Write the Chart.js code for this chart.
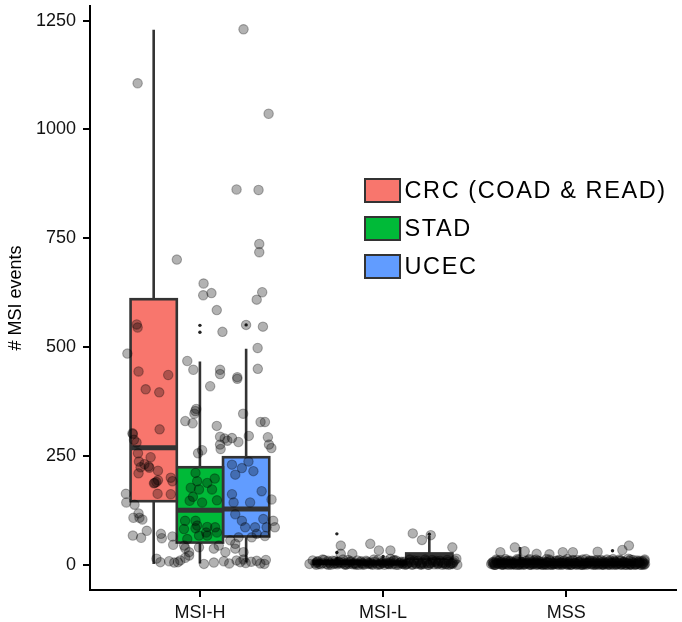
<!DOCTYPE html>
<html><head><meta charset="utf-8">
<script src="https://cdn.jsdelivr.net/npm/chart.js@4/dist/chart.umd.min.js"></script>
<style>
body{margin:0;background:#fff}
#wrap{position:relative;width:682px;height:622px}
#legend{position:absolute;left:364px;top:171.5px;font-family:'Liberation Sans',Arial,sans-serif;font-size:23.5px;letter-spacing:1.6px;line-height:1.15;color:#000}
.item{display:flex;align-items:center;height:38px;white-space:nowrap}
.sw{width:32.5px;height:20.5px;border:2px solid #333;margin-right:4px;flex:none}
</style></head><body>
<div id="wrap"><canvas id="c" width="682" height="622"></canvas><div id="legend"></div></div>
<script>
// ---------- data ----------
const categories = ['MSI-H', 'MSI-L', 'MSS'];
const seriesNames = ['CRC (COAD & READ)', 'STAD', 'UCEC'];
const seriesColors = ['#F8766D', '#00BA38', '#619CFF'];
const yTicks = [0, 250, 500, 750, 1000, 1250];

// box statistics per category: [min, q1, median, q3, max]
const crcStats  = [[2, 146, 269, 610, 1229], [0, 2, 5, 9, 18], [0, 2, 5, 9, 41]];
const stadStats = [[3, 51, 125, 224, 467], [0, 2, 4, 7, 13], [0, 1, 3, 6, 12]];
const ucecStats = [[5, 65, 128, 247, 496], [8, 14, 19, 26, 66], [0, 1, 3, 6, 15]];

// boxplot outliers: [category index, value]
const crcOutliers  = [[1, 71], [1, 28]];
const stadOutliers = [[0, 550], [0, 534], [1, 19]];
const ucecOutliers = [[0, 551], [1, 70], [2, 32]];

// jittered samples: [horizontal jitter (category units), # MSI events]
const msihPoints = [[-0.34,1106],[0.238,1230],[0.375,1036],[0.2,862],[0.32,861],[0.324,737],[0.324,718],[-0.126,701],[0.02,646],[0.018,619],[0.063,624],[0.34,626],[0.31,609],
[0.092,585],[-0.345,552],[-0.34,545],[0.123,535],[0.252,551],[0.344,547],[-0.396,485],[0.315,498],[-0.069,468],[-0.036,448],[0.11,448],[0.11,438],[0.204,431],[0.204,427],[0.316,450],[-0.335,444],[-0.173,436],[-0.296,403],[-0.222,396],[0.056,410],[-0.02,358],[-0.025,353],[-0.03,347],[-0.08,330],[-0.04,325],[0.092,319],[0.236,347],[0.331,328],[0.355,328],[-0.22,311],
[-0.366,300],[-0.346,281],[0.267,296],[0.371,293],[0.135,290],[0.15,285],[0.11,294],[0.11,276],[0.113,266],[0.012,263],[-0.01,256],[0.377,276],[0.39,268],[0.175,291],[0.21,282],
[-0.338,256],[-0.333,237],[-0.269,247],[-0.276,223],[-0.229,216],[-0.247,188],[-0.229,194],[-0.324,224],[-0.335,210],[-0.404,163],[-0.402,143],[-0.357,138],[-0.335,118],[-0.363,108],[-0.33,108],[-0.314,104],[-0.366,67],[-0.321,62],[-0.29,78],[-0.213,71],[-0.208,61],[-0.15,65],[-0.146,46],[-0.086,44],[-0.237,14],[-0.216,6],[-0.168,8],[-0.14,5],[-0.12,6],[-0.107,10],[-0.08,16],[-0.059,21],[-0.08,38],[-0.059,29],
[-0.368,302],[-0.36,287],[-0.303,231],[-0.28,226],[-0.238,190],[-0.251,187],[-0.159,200],[-0.15,192],[-0.231,163],[-0.159,162],
[-0.024,211],[-0.015,192],[-0.05,177],[-0.005,173],[-0.038,156],[-0.056,147],[0.012,143],[0.066,173],[0.093,148],[0.081,198],[0.04,188],[-0.081,101],[-0.024,101],[-0.015,90],[-0.024,84],[0.04,87],[0.034,74],[0.04,67],[0.083,86],[0.093,74],[-0.087,82],
[0.175,230],[0.193,207],[0.229,222],[0.265,237],[0.292,215],[0.337,169],[0.175,162],[0.184,143],[0.274,143],[0.391,150],[0.193,116],[0.229,101],[0.346,105],[0.247,86],[0.301,86],[0.364,86],[0.211,63],[0.4,101],[0.409,86],
[0.022,2],[0.076,5],[0.13,8],[0.16,3],[0.2,10],[0.22,6],[0.238,12],[0.25,4],[0.28,7],[0.31,9],[0.33,3],[0.36,11],[0.352,2],[-0.005,40],[0.076,37],[0.103,44],[0.139,29],[0.193,37],[0.238,29],[-0.005,67],[-0.069,59],[0.283,63],[0.31,71],[0.355,66],[0.166,56],[0.193,48]];

const msilPoints = [[-0.384,10],[-0.402,2],[-0.231,44],[-0.231,25],[-0.07,48],[-0.023,33],[0.04,33],[0.04,14],[-0.168,25],[0.162,72],[0.212,57],[0.26,68],[0.378,40],[0.4,14],[0.405,0],
[-0.37,3],[-0.355,8],[-0.34,1],[-0.362,5],[-0.322,11],[-0.31,2],[-0.298,6],[-0.285,0],[-0.276,9],[-0.262,4],[-0.25,1],[-0.243,7],[-0.231,3],[-0.219,12],[-0.205,0],[-0.196,5],[-0.184,2],[-0.177,8],[-0.165,1],[-0.152,4],[-0.141,10],[-0.133,0],[-0.121,6],[-0.112,3],[-0.1,1],[-0.093,9],[-0.081,2],[-0.069,5],[-0.058,0],[-0.047,7],[-0.036,3],[-0.028,11],[-0.015,1],[-0.004,4],[0.008,0],[0.017,8],[0.029,2],[0.041,6],[0.05,1],[0.062,3],[0.071,10],[0.083,0],[0.094,5],[0.106,2],[0.115,7],[0.127,1],[0.138,4],[0.146,12],[0.158,0],[0.169,6],[0.181,3],[0.19,9],[0.202,1],[0.213,5],[0.224,2],[0.236,8],[0.245,0],[0.257,4],[0.268,11],[0.279,1],[0.288,6],[0.3,3],[0.311,9],[0.323,0],[0.334,5],[0.343,2],[0.356,7],[0.367,1],[0.378,4],[0.39,10],
[-0.365,0],[-0.33,4],[-0.3,9],[-0.268,2],[-0.238,5],[-0.21,1],[-0.18,6],[-0.148,0],[-0.118,3],[-0.087,7],[-0.06,2],[-0.03,0],[0.0,5],[0.033,1],[0.058,9],[0.09,3],[0.12,0],[0.15,6],[0.178,2],[0.208,0],[0.24,4],[0.27,7],[0.298,1],[0.328,3],[0.357,0],[0.384,6],
[-0.36,7],[-0.33,12],[-0.29,3],[-0.26,9],[-0.22,5],[-0.19,11],[-0.15,2],[-0.12,8],[-0.08,4],[-0.05,12],[-0.01,6],[0.02,3],[0.06,11],[0.1,7],[0.13,2],[0.17,10],[0.2,4],[0.23,12],[0.26,3],[0.29,9],[0.32,5],[0.35,11],[0.38,2],
[-0.35,2],[-0.3,0],[-0.25,4],[-0.2,1],[-0.16,3],[-0.11,0],[-0.07,2],[-0.02,1],[0.03,4],[0.07,0],[0.11,3],[0.16,1],[0.21,2],[0.25,0],[0.3,4],[0.34,1],[0.37,3]];

const mssPoints = [[-0.281,40],[-0.227,31],[-0.019,29],[0.036,29],[0.171,30],[0.342,44],[0.306,34],[-0.36,29],[-0.162,25],[-0.092,24],
[-0.41,2],[-0.398,7],[-0.386,0],[-0.375,4],[-0.362,11],[-0.35,1],[-0.339,5],[-0.327,9],[-0.315,0],[-0.304,3],[-0.291,6],[-0.28,1],[-0.268,13],[-0.257,2],[-0.245,5],[-0.233,0],[-0.222,8],[-0.21,3],[-0.198,1],[-0.187,6],[-0.175,10],[-0.163,0],[-0.152,4],[-0.14,2],[-0.128,7],[-0.117,1],[-0.105,5],[-0.093,12],[-0.082,0],[-0.07,3],[-0.058,8],[-0.047,1],[-0.035,4],[-0.023,0],[-0.012,9],[0.0,2],[0.012,6],[0.023,0],[0.035,11],[0.047,3],[0.058,1],[0.07,7],[0.082,4],[0.093,0],[0.105,5],[0.117,2],[0.128,10],[0.14,1],[0.152,6],[0.163,3],[0.175,0],[0.187,8],[0.198,2],[0.21,5],[0.222,12],[0.233,1],[0.245,4],[0.257,0],[0.268,7],[0.28,3],[0.291,9],[0.304,1],[0.315,5],[0.327,0],[0.339,14],[0.35,2],[0.362,6],[0.375,1],[0.386,10],[0.398,3],[0.41,0],[0.422,5],[0.43,2],
[-0.404,5],[-0.392,0],[-0.38,9],[-0.368,2],[-0.356,6],[-0.344,0],[-0.333,3],[-0.321,1],[-0.309,7],[-0.297,0],[-0.285,4],[-0.274,9],[-0.262,0],[-0.25,3],[-0.239,6],[-0.227,1],[-0.216,4],[-0.204,11],[-0.192,0],[-0.181,2],[-0.169,5],[-0.157,1],[-0.146,8],[-0.134,0],[-0.122,3],[-0.111,6],[-0.099,0],[-0.087,2],[-0.076,5],[-0.064,1],[-0.052,10],[-0.041,0],[-0.029,6],[-0.017,2],[-0.006,4],[0.006,0],[0.018,8],[0.029,1],[0.041,5],[0.053,0],[0.064,2],[0.076,9],[0.088,1],[0.099,3],[0.111,0],[0.123,6],[0.134,1],[0.146,4],[0.158,0],[0.169,11],[0.181,2],[0.193,5],[0.204,0],[0.216,3],[0.228,7],[0.239,0],[0.251,2],[0.263,9],[0.274,0],[0.286,4],[0.297,1],[0.309,6],[0.321,0],[0.333,3],[0.344,8],[0.356,0],[0.368,4],[0.38,1],[0.392,7],[0.404,0],[0.416,3],[0.427,9],
[-0.4,1],[-0.377,3],[-0.352,0],[-0.326,5],[-0.3,2],[-0.276,0],[-0.25,7],[-0.226,2],[-0.2,0],[-0.176,4],[-0.15,1],[-0.126,0],[-0.1,6],[-0.076,0],[-0.05,3],[-0.026,1],[0.0,7],[0.026,0],[0.05,4],[0.076,0],[0.1,2],[0.126,8],[0.15,0],[0.176,3],[0.2,1],[0.226,0],[0.25,6],[0.276,2],[0.3,0],[0.326,4],[0.35,1],[0.376,0],[0.4,5],[0.42,1],
[-0.395,4],[-0.37,8],[-0.345,2],[-0.318,10],[-0.293,3],[-0.27,6],[-0.243,1],[-0.218,9],[-0.19,4],[-0.165,12],[-0.14,5],[-0.115,2],[-0.088,9],[-0.062,4],[-0.038,11],[-0.012,5],[0.014,3],[0.04,10],[0.066,6],[0.09,12],[0.115,4],[0.14,9],[0.164,6],[0.19,11],[0.214,3],[0.24,10],[0.265,5],[0.29,12],[0.315,7],[0.34,3],[0.365,11],[0.39,5],[0.415,8],[0.428,12],
[-0.382,12],[-0.358,6],[-0.332,13],[-0.305,9],[-0.258,12],[-0.2,13],[-0.155,9],[-0.108,13],[-0.045,8],[0.005,13],[0.06,11],[0.108,13],[0.155,10],[0.205,8],[0.255,13],[0.3,10],[0.35,12],[0.4,9],
[-0.39,0],[-0.36,3],[-0.33,1],[-0.29,2],[-0.255,0],[-0.22,4],[-0.18,1],[-0.145,3],[-0.11,0],[-0.07,2],[-0.03,4],[0.01,1],[0.045,3],[0.085,0],[0.12,4],[0.16,2],[0.195,0],[0.23,3],[0.27,1],[0.31,3],[0.345,0],[0.385,2],[0.425,0]];

// ---------- build ----------
const allStats = [crcStats, stadStats, ucecStats];
const allOutliers = [crcOutliers, stadOutliers, ucecOutliers];
const pointSets = [msihPoints, msilPoints, mssPoints];
const FONT = "'Liberation Sans', Arial, Helvetica, sans-serif";
const BOXLINE = '#333333';

const barDatasets = seriesNames.map((name, g) => ({
  type: 'bar',
  label: name,
  data: allStats[g].map((s, i) => ({x: i, y: [s[1], s[3]]})),
  backgroundColor: seriesColors[g],
  borderWidth: 0,
  categoryPercentage: 0.757,
  barPercentage: 1.0,
  order: 2
}));

const scatterData = [];
pointSets.forEach((pts, ci) => pts.forEach(p => scatterData.push({x: ci + p[0], y: p[1]})));

const boxPlugin = {
  id: 'boxplotParts',
  afterDatasetDraw(chart, args) {
    const meta = args.meta;
    if (meta.type !== 'bar') return;
    const g = args.index;
    const ys = chart.scales.y;
    const ctx = chart.ctx;
    const stats = allStats[g];
    ctx.save();
    ctx.strokeStyle = BOXLINE;
    ctx.lineCap = 'butt';
    meta.data.forEach((bar, i) => {
      const p = bar.getProps(['x', 'y', 'base', 'width'], true);
      const [mn, q1, md, q3, mx] = stats[i];
      const x = p.x, hw = p.width / 2;
      const top = ys.getPixelForValue(q3), bot = ys.getPixelForValue(q1);
      ctx.lineWidth = 2.6;
      ctx.beginPath();
      ctx.moveTo(x, top); ctx.lineTo(x, ys.getPixelForValue(mx));
      ctx.moveTo(x, bot); ctx.lineTo(x, ys.getPixelForValue(mn));
      ctx.stroke();
      ctx.strokeRect(x - hw, top, p.width, bot - top);
      ctx.lineWidth = 5;
      ctx.beginPath();
      const my = ys.getPixelForValue(md);
      ctx.moveTo(x - hw, my); ctx.lineTo(x + hw, my);
      ctx.stroke();
    });
    ctx.fillStyle = '#222';
    allOutliers[g].forEach(o => {
      const bar = meta.data[o[0]];
      ctx.beginPath();
      ctx.arc(bar.x, ys.getPixelForValue(o[1]), 1.7, 0, Math.PI * 2);
      ctx.fill();
    });
    ctx.restore();
  }
};

new Chart(document.getElementById('c'), {
  type: 'bar',
  data: {
    datasets: [
      ...barDatasets,
      {
        type: 'scatter',
        label: 'samples',
        data: scatterData,
        pointRadius: 4.7,
        pointBackgroundColor: 'rgba(0,0,0,0.3)',
        pointBorderColor: 'rgba(0,0,0,0.3)',
        pointBorderWidth: 1.1,
        order: 1
      }
    ]
  },
  options: {
    responsive: false,
    animation: false,
    events: [],
    layout: {padding: 0},
    plugins: {legend: {display: false}, tooltip: {enabled: false}},
    scales: {
      x: {
        type: 'linear',
        min: -0.6, max: 2.6,
        offset: false,
        grid: {display: true, drawOnChartArea: false, drawTicks: true, tickLength: 7, color: '#000', lineWidth: 2, offset: false},
        border: {display: true, color: '#000', width: 2},
        ticks: {
          font: {family: FONT, size: 18}, color: '#111', padding: 5, maxRotation: 0, autoSkip: false,
          callback: v => categories[v]
        },
        afterBuildTicks: s => { s.ticks = categories.map((c, i) => ({value: i})); },
        afterFit: s => { s.height = 32; s.paddingLeft = 0; s.paddingRight = 0; }
      },
      y: {
        type: 'linear',
        min: -58, max: 1284,
        grid: {display: true, drawOnChartArea: false, drawTicks: true, tickLength: 7, color: '#000', lineWidth: 2},
        border: {display: true, color: '#000', width: 2},
        ticks: {font: {family: FONT, size: 18}, color: '#111', padding: 7, callback: v => String(v)},
        afterBuildTicks: s => { s.ticks = yTicks.map(v => ({value: v})); },
        afterFit: s => { s.width = 90; s.paddingTop = 0; s.paddingBottom = 0; },
        title: {display: true, text: '# MSI events', font: {family: FONT, size: 18}, color: '#000', padding: {top: 5, bottom: 0}}
      }
    }
  },
  plugins: [boxPlugin]
});

// legend
const lg = document.getElementById('legend');
seriesNames.forEach((n, g) => {
  const it = document.createElement('div'); it.className = 'item';
  const sw = document.createElement('div'); sw.className = 'sw'; sw.style.background = seriesColors[g];
  const tx = document.createElement('span'); tx.textContent = n;
  it.appendChild(sw); it.appendChild(tx); lg.appendChild(it);
});
</script>
</body></html>
